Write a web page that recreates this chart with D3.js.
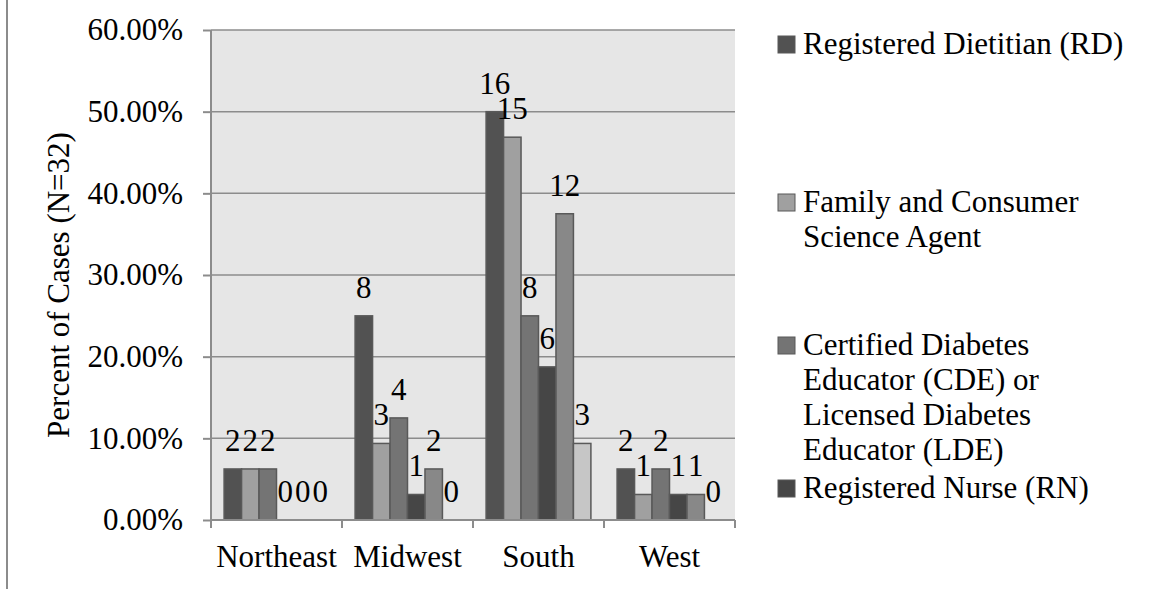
<!DOCTYPE html>
<html>
<head>
<meta charset="utf-8">
<script src="https://cdn.jsdelivr.net/npm/d3@7"></script>
<style>
  html, body { margin: 0; padding: 0; background: #ffffff; }
  svg { display: block; }
  text { font-family: "Liberation Serif", "Times New Roman", serif; fill: #000; }
</style>
</head>
<body>
<svg id="chart" width="1157" height="589"></svg>
<script>
// ---- data ----
const categories = ["Northeast", "Midwest", "South", "West"];
const seriesNames = [
  "Registered Dietitian (RD)",
  "Family and Consumer Science Agent",
  "Certified Diabetes Educator (CDE) or Licensed Diabetes Educator (LDE)",
  "Registered Nurse (RN)",
  "Series 5",
  "Series 6"
];
const legendLines = [
  ["Registered Dietitian (RD)"],
  ["Family and Consumer", "Science Agent"],
  ["Certified Diabetes", "Educator (CDE) or", "Licensed Diabetes", "Educator (LDE)"],
  ["Registered Nurse (RN)"]
];
const counts = [
  [2, 8, 16, 2],   // RD
  [2, 3, 15, 1],   // FCS agent
  [2, 4, 8, 2],    // CDE / LDE
  [0, 1, 6, 1],    // RN
  [0, 2, 12, 1],   // series 5
  [0, 0, 3, 0]     // series 6
];
const totalN = 32;
const yTicks = [0, 0.1, 0.2, 0.3, 0.4, 0.5, 0.6];
const seriesColors = ["#525252", "#a0a0a0", "#747474", "#464646", "#888888", "#c6c6c6"];

// ---- layout ----
const FONT = "Liberation Serif, Times New Roman, serif";
const svg = d3.select("#chart");
const plot = { left: 211, right: 735, top: 30, bottom: 520 };
const FS = 31;

// outer left border line
svg.append("line").attr("x1", 7).attr("x2", 7).attr("y1", 0).attr("y2", 589)
  .attr("stroke", "#8c8c8c").attr("stroke-width", 2);

const x0 = d3.scaleBand().domain(categories).range([plot.left, plot.right]).padding(0);
const bw = x0.bandwidth();
const x1 = d3.scaleBand().domain(d3.range(seriesNames.length))
  .range([bw * 0.1, bw * 0.9]).padding(0);
const y = d3.scaleLinear().domain([0, 0.6]).range([plot.bottom, plot.top]);

// plot background
svg.append("rect").attr("x", plot.left).attr("y", plot.top)
  .attr("width", plot.right - plot.left).attr("height", plot.bottom - plot.top)
  .attr("fill", "#e6e6e6");

// gridlines
svg.append("g").selectAll("line").data(yTicks.slice(1)).join("line")
  .attr("x1", plot.left).attr("x2", plot.right)
  .attr("y1", d => y(d)).attr("y2", d => y(d))
  .attr("stroke", "#8c8c8c").attr("stroke-width", 1.5);

// bars
const rows = [];
counts.forEach((arr, s) => arr.forEach((c, i) => rows.push({ s, cat: categories[i], c, v: c / totalN })));

svg.append("g").selectAll("rect").data(rows.filter(d => d.c > 0)).join("rect")
  .attr("x", d => x0(d.cat) + x1(d.s))
  .attr("y", d => y(d.v))
  .attr("width", x1.bandwidth())
  .attr("height", d => y(0) - y(d.v))
  .attr("fill", d => seriesColors[d.s])
  .attr("stroke", "#595959").attr("stroke-width", 1.5);

// data labels
svg.append("g").selectAll("text").data(rows).join("text")
  .attr("x", d => x0(d.cat) + x1(d.s) + x1.bandwidth() / 2)
  .attr("y", d => y(d.v) - 18)
  .attr("text-anchor", "middle")
  .attr("font-family", FONT)
  .attr("font-size", FS)
  .text(d => d.c);

// y axis
const yAxis = d3.axisLeft(y).tickValues(yTicks).tickSize(8).tickPadding(20)
  .tickFormat(d => (d * 100).toFixed(2) + "%");
const gy = svg.append("g").attr("transform", `translate(${plot.left},0)`).call(yAxis);
gy.select(".domain").attr("stroke", "#8c8c8c").attr("stroke-width", 2)
  .attr("d", `M0,${plot.top}V${plot.bottom}`);
gy.selectAll(".tick line").attr("stroke", "#8c8c8c").attr("stroke-width", 2);
gy.selectAll(".tick text").attr("font-size", FS)
  .attr("font-family", FONT).attr("fill", "#000");

// x axis
const gx = svg.append("g").attr("transform", `translate(0,${plot.bottom})`);
gx.append("line").attr("x1", plot.left).attr("x2", plot.right).attr("y1", 0).attr("y2", 0)
  .attr("stroke", "#8c8c8c").attr("stroke-width", 2);
const boundaries = categories.map(c => x0(c)).concat([plot.right]);
gx.selectAll("line.tk").data(boundaries).join("line").attr("class", "tk")
  .attr("x1", d => d).attr("x2", d => d).attr("y1", 0).attr("y2", 8)
  .attr("stroke", "#8c8c8c").attr("stroke-width", 2);
gx.selectAll("text").data(categories).join("text")
  .attr("x", d => x0(d) + bw / 2).attr("y", 47)
  .attr("text-anchor", "middle").attr("font-family", FONT).attr("font-size", FS).text(d => d);

// y axis title
svg.append("text")
  .attr("transform", `translate(69,${(plot.top + plot.bottom) / 2 + 10}) rotate(-90)`)
  .attr("text-anchor", "middle").attr("font-family", FONT).attr("font-size", FS)
  .text("Percent of Cases (N=32)");

// legend (only the entries that fit are shown, as in the original)
const legendBaselines = [[54], [212, 247], [355, 390, 425, 460], [498]];
const lg = svg.append("g");
legendLines.forEach((lines, i) => {
  const b0 = legendBaselines[i][0];
  lg.append("rect").attr("x", 778).attr("y", b0 - 18).attr("width", 17).attr("height", 17)
    .attr("fill", seriesColors[i]).attr("stroke", "#595959").attr("stroke-width", 1);
  lines.forEach((ln, j) => {
    lg.append("text").attr("x", 803).attr("y", legendBaselines[i][j])
      .attr("font-family", FONT).attr("font-size", FS).text(ln);
  });
});
</script>
</body>
</html>
